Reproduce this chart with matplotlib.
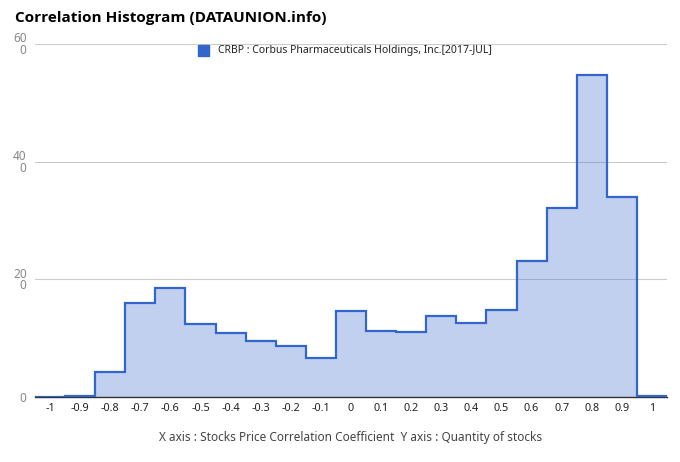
import numpy as np
import matplotlib
matplotlib.use("Agg")
import matplotlib.pyplot as plt
from matplotlib.patches import Rectangle

# bin centres (correlation coefficient) and stock counts
centers = [-1.0, -0.9, -0.8, -0.7, -0.6, -0.5, -0.4, -0.3, -0.2, -0.1, 0.0,
           0.1, 0.2, 0.3, 0.4, 0.5, 0.6, 0.7, 0.8, 0.9, 1.0]
counts = [0.0, 0.25, 4.3, 15.9, 18.5, 12.4, 10.8, 9.5, 8.7, 6.7, 14.7,
          11.2, 11.1, 13.7, 12.6, 14.8, 23.1, 32.2, 54.8, 34.0, 0.17]
x_labels = ["-1", "-0.9", "-0.8", "-0.7", "-0.6", "-0.5", "-0.4", "-0.3", "-0.2", "-0.1", "0",
            "0.1", "0.2", "0.3", "0.4", "0.5", "0.6", "0.7", "0.8", "0.9", "1"]
y_ticks = [0, 20, 40, 60]
y_labels = ["0", "20\n0", "40\n0", "60\n0"]

title = "Correlation Histogram (DATAUNION.info)"
legend_label = "CRBP : Corbus Pharmaceuticals Holdings, Inc.[2017-JUL]"
axis_note = "X axis : Stocks Price Correlation Coefficient  Y axis : Quantity of stocks"

LINE = "#3366cc"
plt.rcParams["font.family"] = ["Noto Sans", "DejaVu Sans"]

fig = plt.figure(figsize=(6.8, 4.62), dpi=100)
ax = fig.add_axes([35 / 680, 1 - 397 / 462, 632 / 680, 353 / 462])

half = 0.05
edges = [c - half for c in centers] + [centers[-1] + half]
ax.stairs(counts, edges, fill=True, color=LINE, alpha=0.3, linewidth=0)
ax.stairs(counts, edges, baseline=None, color=LINE, linewidth=1.6, zorder=4)

ax.set_xlim(edges[0], edges[-1])
ax.set_ylim(0, 60)
ax.set_xticks(centers)
ax.set_xticklabels(x_labels, fontsize=7.8, color="#222222")
ax.set_yticks(y_ticks)
ax.set_yticklabels(y_labels, fontsize=8.5, color="#888888", linespacing=0.85,
                   multialignment="right")
ax.tick_params(axis="both", length=0)
ax.tick_params(axis="x", pad=4)
ax.tick_params(axis="y", pad=6)

ax.grid(axis="y", color="#cccccc", linewidth=0.8)
ax.set_axisbelow(True)
for side in ["top", "right", "left"]:
    ax.spines[side].set_visible(False)
ax.spines["bottom"].set_color("#333333")
ax.spines["bottom"].set_linewidth(1.0)
ax.spines["bottom"].set_zorder(3)

fig.text(15 / 680, 1 - 18 / 462, title, fontsize=11, fontweight="bold",
         family=["Open Sans", "DejaVu Sans"], va="center", ha="left", color="#000000")

# legend entry
fig.patches.append(Rectangle((198 / 680, 1 - 56 / 462), 11 / 680, 11 / 462,
                             transform=fig.transFigure, color=LINE))
fig.text(218 / 680, 1 - 50 / 462, legend_label, fontsize=7.5, va="center",
         ha="left", color="#222222")

fig.text(351 / 680, 1 - 437 / 462, axis_note, fontsize=8.5, va="center",
         ha="center", color="#444444")

fig.savefig("out.png", dpi=100)
